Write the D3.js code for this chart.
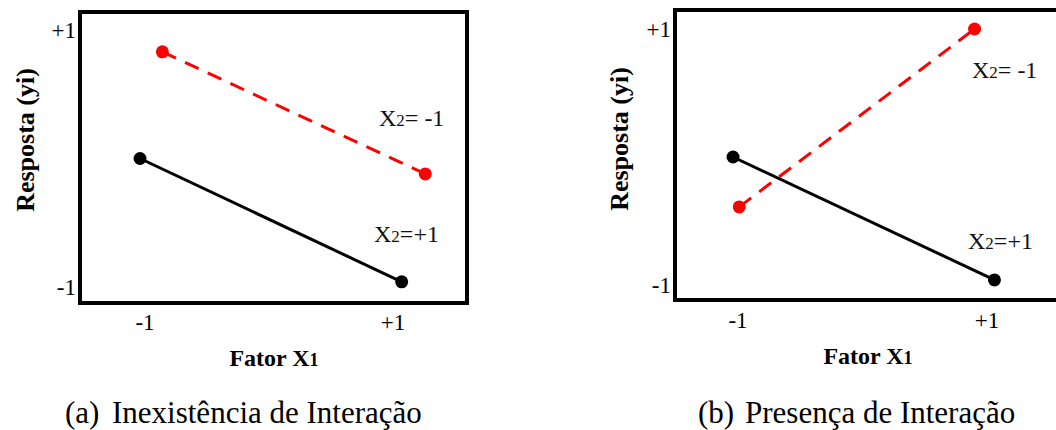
<!DOCTYPE html>
<html>
<head>
<meta charset="utf-8">
<script src="https://cdn.jsdelivr.net/npm/d3@7"></script>
<style>
  body { margin: 0; background: #fff; }
  svg { display: block; }
</style>
</head>
<body>
<svg id="chart" width="1056" height="430"></svg>
<script>
// tick labels for both factors
var tickValues = [-1, 1];
var tickLabels = ["-1", "+1"];

// panel (a): no interaction
var aNegX = [-0.86, 1.26], aNegY = [0.83, -0.12];   // X2 = -1 (red dashed)
var aPosX = [-1.04, 1.07], aPosY = [0.0, -0.96];    // X2 = +1 (black)

// panel (b): interaction
var bNegX = [-0.99, 0.90], bNegY = [-0.39, 1.0];
var bPosX = [-1.04, 1.06], bPosY = [0.0, -0.96];

var captions = ["(a)", "Inexistência de Interação", "(b)", "Presença de Interação"];

var svg = d3.select("#chart");
var serif = "Liberation Serif, Times New Roman, serif";

function zip(xs, ys) {
  return xs.map(function (d, i) { return { x: d, y: ys[i] }; });
}

function panel(p) {
  var g = svg.append("g");
  var x = d3.scaleLinear().domain([-1, 1]).range(p.xr);
  var y = d3.scaleLinear().domain([-1, 1]).range(p.yr);

  // frame
  g.append("rect")
    .attr("x", p.box[0]).attr("y", p.box[1])
    .attr("width", p.box[2]).attr("height", p.box[3])
    .attr("fill", "none").attr("stroke", "#000").attr("stroke-width", 4);

  // y tick labels
  g.selectAll(".yt").data(tickValues).enter().append("text")
    .attr("x", p.box[0] - 4).attr("y", function (d) { return y(d); })
    .attr("dy", "0.35em").attr("text-anchor", "end")
    .style("font-family", serif).style("font-size", "23px")
    .text(function (d, i) { return tickLabels[i]; });

  // x tick labels
  g.selectAll(".xt").data(tickValues).enter().append("text")
    .attr("x", function (d) { return x(d); }).attr("y", p.xtY)
    .attr("dy", "0.35em").attr("text-anchor", "middle")
    .style("font-family", serif).style("font-size", "23px")
    .text(function (d, i) { return tickLabels[i]; });

  var line = d3.line().x(function (d) { return x(d.x); }).y(function (d) { return y(d.y); });

  var series = [
    { pts: zip(p.negX, p.negY), color: "#ff0000", dash: "15,10" },
    { pts: zip(p.posX, p.posY), color: "#000", dash: null }
  ];

  series.forEach(function (s) {
    g.append("path").datum(s.pts)
      .attr("d", line).attr("fill", "none")
      .attr("stroke", s.color).attr("stroke-width", 3)
      .attr("stroke-dasharray", s.dash);
    g.selectAll(null).data(s.pts).enter().append("circle")
      .attr("cx", function (d) { return x(d.x); })
      .attr("cy", function (d) { return y(d.y); })
      .attr("r", 6.5).attr("fill", s.color);
  });

  // series labels
  function lab(px, py, val) {
    var t = g.append("text").attr("x", px).attr("y", py)
      .style("font-family", serif).style("font-size", "24px").attr("fill", "#111");
    t.append("tspan").text("X");
    t.append("tspan").style("font-size", "17px").text("2");
    t.append("tspan").text(val);
  }
  lab(p.negLab[0], p.negLab[1], "= -1");
  lab(p.posLab[0], p.posLab[1], "=+1");

  // axis titles
  var xt = g.append("text").attr("x", p.xTitle[0]).attr("y", p.xTitle[1])
    .attr("text-anchor", "middle")
    .style("font-family", serif).style("font-size", "24px").style("font-weight", "bold");
  xt.append("tspan").text("Fator X");
  xt.append("tspan").style("font-size", "18px").text("1");

  g.append("text")
    .attr("transform", "translate(" + p.yTitle[0] + "," + p.yTitle[1] + ") rotate(-90)")
    .attr("text-anchor", "middle")
    .style("font-family", serif).style("font-size", "26px").style("font-weight", "bold")
    .text("Resposta (yi)");
}

panel({
  box: [80, 12, 387, 291], xr: [145, 393], yr: [287, 30], xtY: 322,
  negX: aNegX, negY: aNegY, posX: aPosX, posY: aPosY,
  negLab: [379, 126], posLab: [374, 242],
  xTitle: [274, 366], yTitle: [34, 140]
});

panel({
  box: [675, 10, 420, 290], xr: [738, 987], yr: [285, 29], xtY: 320,
  negX: bNegX, negY: bNegY, posX: bPosX, posY: bPosY,
  negLab: [972, 78], posLab: [968, 249],
  xTitle: [868, 364], yTitle: [628, 139]
});

// captions
var capX = [65, 112, 698, 745];
svg.selectAll(".cap").data(captions).enter().append("text")
  .attr("x", function (d, i) { return capX[i]; }).attr("y", 423)
  .style("font-family", serif).style("font-size", "31px")
  .text(function (d) { return d; });
</script>
</body>
</html>
